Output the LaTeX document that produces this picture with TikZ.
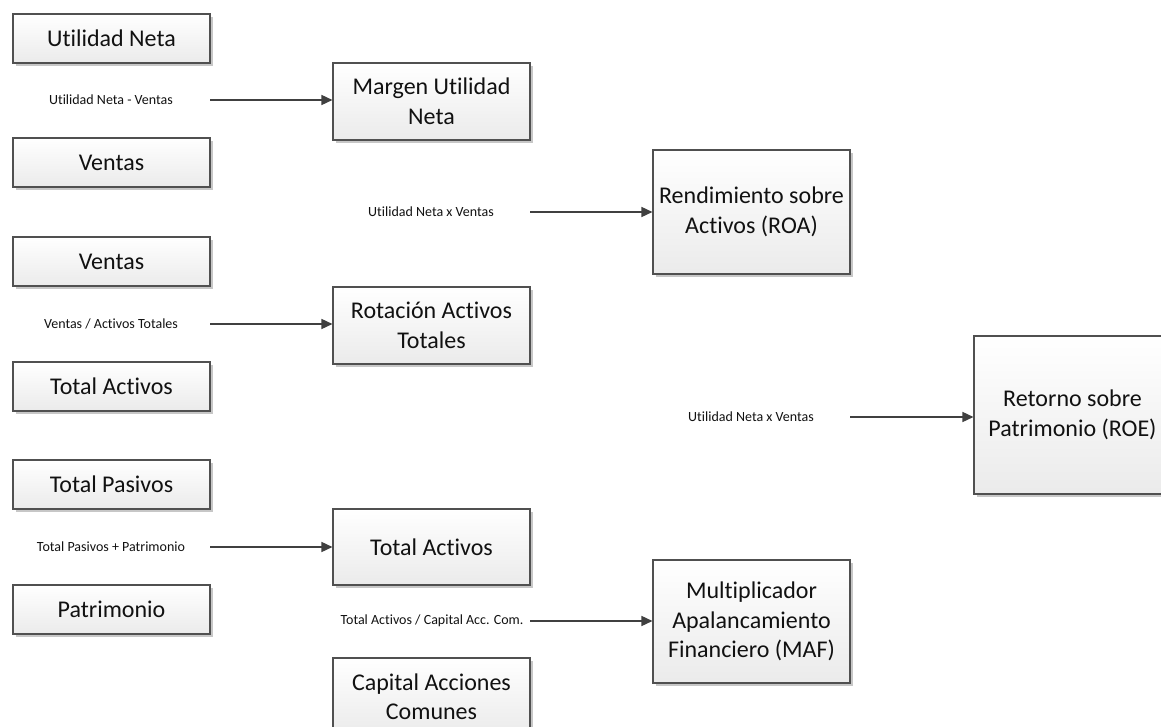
\documentclass[tikz,border=0pt]{standalone}
\usepackage{fontspec}
\setmainfont{Carlito}[Ligatures=NoCommon]
\usetikzlibrary{arrows.meta,shadows}
\definecolor{edge}{HTML}{505050}
\definecolor{arrc}{HTML}{404040}
\definecolor{txt}{HTML}{111111}
\tikzset{
  box/.style={draw=edge, line width=1.1pt, rectangle, top color=white, bottom color=black!8,
    align=center, text=txt, font=\fontsize{24}{29.5}\selectfont, inner sep=2pt,
    drop shadow={shadow xshift=3pt, shadow yshift=-3pt, fill=black!22, opacity=1}},
  lbl/.style={font=\fontsize{14}{16}\selectfont, text=txt, inner sep=0pt},
  arr/.style={draw=arrc, line width=1.5pt, -{Triangle[length=11pt,width=10pt]}}
}
\begin{document}
\begin{tikzpicture}[x=1pt,y=-1pt]
\useasboundingbox (0,0) rectangle (1161,727);
% left column
\node[box, minimum width=197pt, minimum height=49pt] (un)  at (111.5,38.5) {Utilidad Neta};
\node[box, minimum width=197pt, minimum height=49pt] (v1)  at (111.5,162.5) {Ventas};
\node[box, minimum width=197pt, minimum height=49pt] (v2)  at (111.5,261.5) {Ventas};
\node[box, minimum width=197pt, minimum height=49pt] (ta1) at (111.5,386.5) {Total Activos};
\node[box, minimum width=197pt, minimum height=49pt] (tp)  at (111.5,484.5) {Total Pasivos};
\node[box, minimum width=197pt, minimum height=49pt] (pat) at (111.5,609.5) {Patrimonio};
% middle column
\node[box, minimum width=197pt, minimum height=77pt] (mun) at (431.5,101.5) {Margen Utilidad\\Neta};
\node[box, minimum width=197pt, minimum height=77pt] (rat) at (431.5,325.5) {Rotación Activos\\Totales};
\node[box, minimum width=197pt, minimum height=76pt] (ta2) at (431.5,547) {Total Activos};
\node[box, minimum width=197pt, minimum height=77pt] (cap) at (431.5,696.5) {Capital Acciones\\Comunes};
% right columns
\node[box, minimum width=197pt, minimum height=124pt] (roa) at (751.5,212) {Rendimiento sobre\\Activos (ROA)};
\node[box, minimum width=197pt, minimum height=123pt] (maf) at (751.5,621.5) {Multiplicador\\Apalancamiento\\Financiero (MAF)};
\node[box, minimum width=197pt, minimum height=158pt] (roe) at (1072.5,415) {Retorno sobre\\Patrimonio (ROE)};
% labels
\node[lbl] (l1) at (111,100) {Utilidad Neta - Ventas};
\node[lbl] (l2) at (431,212) {Utilidad Neta x Ventas};
\node[lbl] (l3) at (111,324) {Ventas / Activos Totales};
\node[lbl] (l4) at (751,417) {Utilidad Neta x Ventas};
\node[lbl] (l5) at (111,547) {Total Pasivos + Patrimonio};
\node[lbl] (l6) at (432,621) {Total Activos / Capital Acc. Com.};
% arrow starts
\coordinate (s1) at (210,100);
\coordinate (s2) at (530,212);
\coordinate (s3) at (210,324);
\coordinate (s4) at (850,417);
\coordinate (s5) at (210,547);
\coordinate (s6) at (530,621);
% arrows
\draw[arr] (s1) -- (s1 -| mun.west);
\draw[arr] (s2) -- (s2 -| roa.west);
\draw[arr] (s3) -- (s3 -| rat.west);
\draw[arr] (s4) -- (s4 -| roe.west);
\draw[arr] (s5) -- (s5 -| ta2.west);
\draw[arr] (s6) -- (s6 -| maf.west);
\end{tikzpicture}
\end{document}
